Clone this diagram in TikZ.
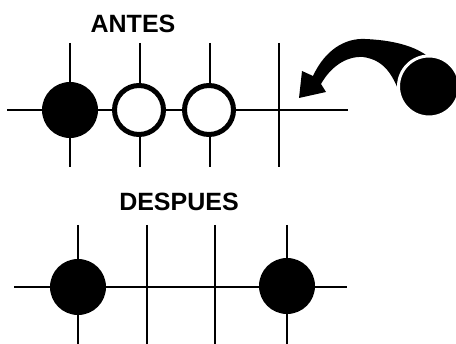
\documentclass[tikz,border=0pt]{standalone}
\usepackage{fontspec}
\setmainfont{Liberation Sans}
\begin{document}
\begin{tikzpicture}[x=1pt,y=-1pt,
  gridline/.style={line width=1.8pt, black},
  blackstone/.style={circle, fill=black, minimum size=56pt, inner sep=0pt},
  whitestone/.style={circle, fill=white, draw=black, line width=5pt, minimum size=49pt, inner sep=0pt},
  title/.style={font=\fontsize{25}{30}\selectfont\bfseries, inner sep=0pt}]
\useasboundingbox[fill=white] (0,0) rectangle (456,344);
% ANTES
\node[title] (antes) at (133,24) {ANTES};
\draw[gridline] (7,110) -- (348,110);
\foreach \x in {70,140,210,279} \draw[gridline] (\x,43) -- (\x,167);
\node[blackstone] (a1) at (70,110) {};
\node[whitestone] (a2) at (139,110) {};
\node[whitestone] (a3) at (209,110) {};
% arrow
\fill[black] (299,98) -- (302,71) -- (313,76)
  .. controls (325,50) and (345,38) .. (365,39)
  .. controls (390,40) and (412,45) .. (426,55)
  -- (400,94)
  .. controls (393,76) and (385,60) .. (363,57)
  .. controls (345,56) and (330,68) .. (321,84)
  -- (326,92) -- cycle;
\node[blackstone, minimum size=61pt, draw=white, line width=3pt] (ball) at (429,86.5) {};
% DESPUES
\node[title] (despues) at (179,202) {DESPUES};
\draw[gridline] (14,287) -- (347,287);
\foreach \x in {78,147,215,287} \draw[gridline] (\x,225) -- (\x,344);
\node[blackstone] (b1) at (78,287) {};
\node[blackstone] (b2) at (287,286) {};
\end{tikzpicture}
\end{document}
